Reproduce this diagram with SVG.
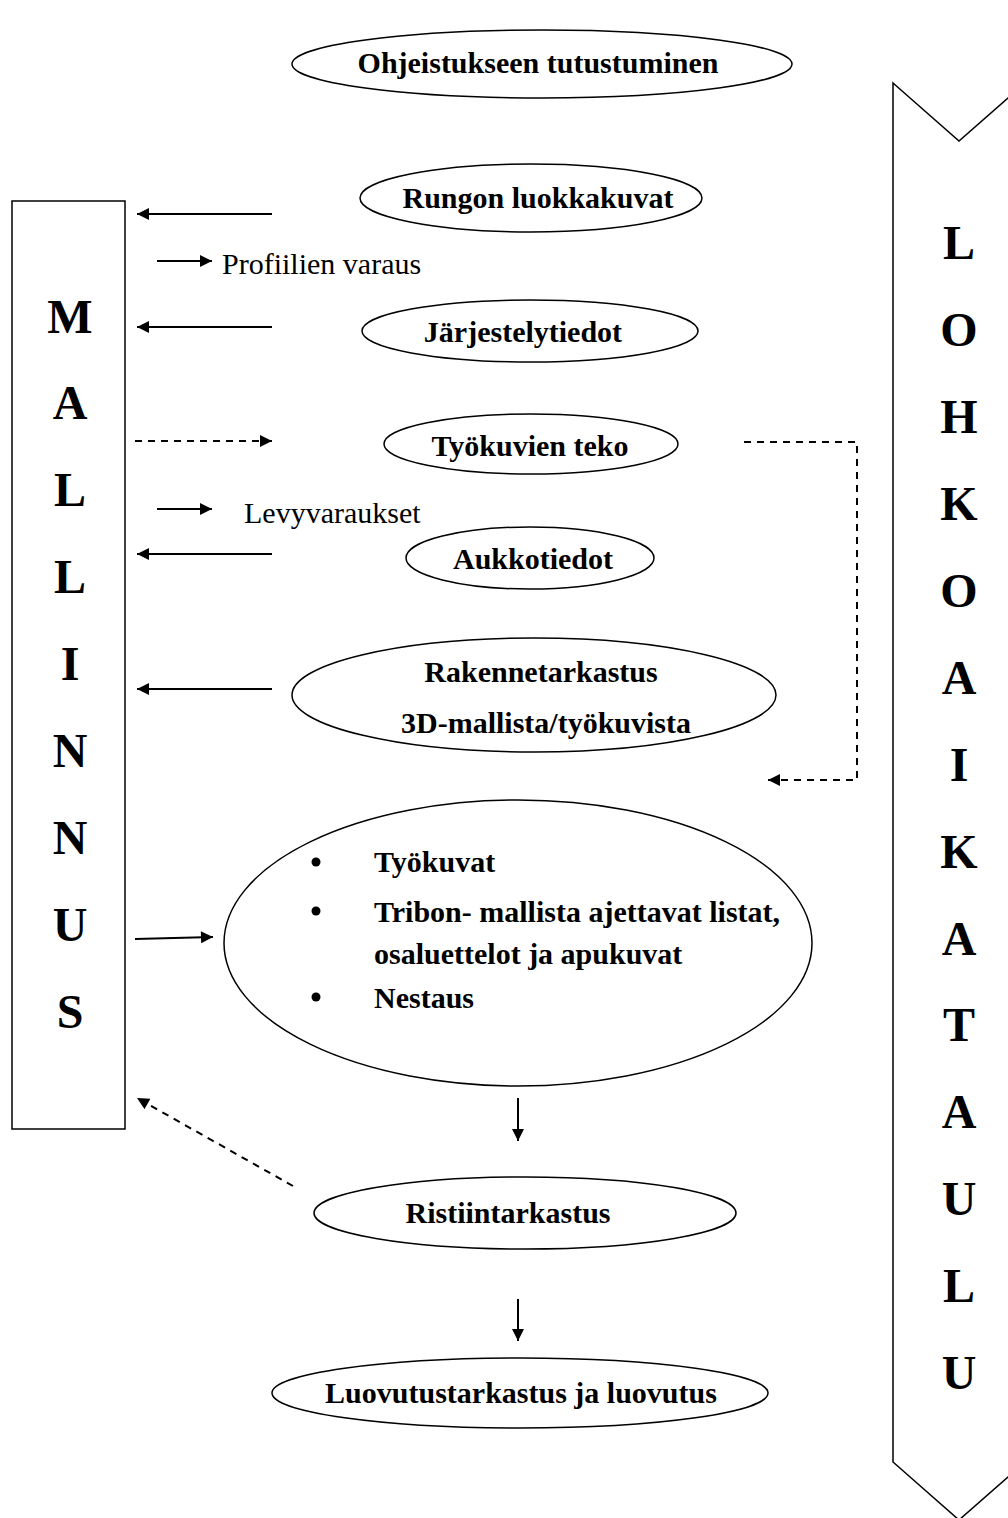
<svg xmlns="http://www.w3.org/2000/svg" width="1008" height="1518" viewBox="0 0 1008 1518">
<defs>
<marker id="ah2" viewBox="0 0 10 10" refX="10" refY="5" markerWidth="14" markerHeight="12" markerUnits="userSpaceOnUse" orient="auto"><path d="M0,0 L10,5 L0,10 z" fill="#000"/></marker>
<style>
.n{fill:#fff;stroke:#000;stroke-width:1.5}
.t{font-family:"Liberation Serif","Times New Roman",serif;font-weight:bold;font-size:30px;text-anchor:middle;fill:#000}
.r{font-family:"Liberation Serif","Times New Roman",serif;font-size:30px;fill:#000}
.b{font-family:"Liberation Serif","Times New Roman",serif;font-weight:bold;font-size:30px;fill:#000}
.big{font-family:"Liberation Serif","Times New Roman",serif;font-weight:bold;font-size:48px;text-anchor:middle;fill:#000}
.c{stroke:#000;stroke-width:2;fill:none}
.d{stroke:#000;stroke-width:2;fill:none;stroke-dasharray:7,6}
</style>
</defs>
<rect width="1008" height="1518" fill="#fff"/>

<g id="mallinnus">
<rect x="12" y="201" width="113" height="928" class="n"/>
<text class="big" x="70" y="333">M</text>
<text class="big" x="70" y="419">A</text>
<text class="big" x="70" y="506">L</text>
<text class="big" x="70" y="593">L</text>
<text class="big" x="70" y="680">I</text>
<text class="big" x="70" y="767">N</text>
<text class="big" x="70" y="854">N</text>
<text class="big" x="70" y="941">U</text>
<text class="big" x="70" y="1028">S</text>
</g>

<g id="lohkoaikataulu">
<path d="M893,83 L959,141 L1025,83 L1025,1462 L959,1520 L893,1462 Z" class="n"/>
<text class="big" x="959" y="259">L</text>
<text class="big" x="959" y="346">O</text>
<text class="big" x="959" y="433">H</text>
<text class="big" x="959" y="520">K</text>
<text class="big" x="959" y="607">O</text>
<text class="big" x="959" y="694">A</text>
<text class="big" x="959" y="781">I</text>
<text class="big" x="959" y="868">K</text>
<text class="big" x="959" y="955">A</text>
<text class="big" x="959" y="1041">T</text>
<text class="big" x="959" y="1128">A</text>
<text class="big" x="959" y="1215">U</text>
<text class="big" x="959" y="1302">L</text>
<text class="big" x="959" y="1389">U</text>
</g>

<g id="ohjeistus">
<ellipse cx="542" cy="64" rx="250" ry="34" class="n"/>
<text class="t" x="538" y="73">Ohjeistukseen tutustuminen</text>
</g>
<g id="rungon">
<ellipse cx="531" cy="198" rx="171" ry="34" class="n"/>
<text class="t" x="538" y="208">Rungon luokkakuvat</text>
</g>
<g id="jarjestely">
<ellipse cx="530" cy="331" rx="168" ry="31" class="n"/>
<text class="t" x="523" y="342">Järjestelytiedot</text>
</g>
<g id="tyokuvien">
<ellipse cx="531" cy="444" rx="147" ry="30" class="n"/>
<text class="t" x="530" y="456">Työkuvien teko</text>
</g>
<g id="aukko">
<ellipse cx="530" cy="558" rx="124" ry="31" class="n"/>
<text class="t" x="533" y="569">Aukkotiedot</text>
</g>
<g id="rakenne">
<ellipse cx="534" cy="695" rx="242" ry="57" class="n"/>
<text class="t" x="541" y="682">Rakennetarkastus</text>
<text class="t" x="546" y="733">3D-mallista/työkuvista</text>
</g>
<g id="tyokuvat">
<ellipse cx="518" cy="943" rx="294" ry="143" class="n"/>
<circle cx="316" cy="862" r="4.5"/>
<circle cx="316" cy="911" r="4.5"/>
<circle cx="316" cy="997" r="4.5"/>
<text class="b" x="374" y="872">Työkuvat</text>
<text class="b" x="374" y="922">Tribon- mallista ajettavat listat,</text>
<text class="b" x="374" y="964">osaluettelot ja apukuvat</text>
<text class="b" x="374" y="1008">Nestaus</text>
</g>
<g id="ristiin">
<ellipse cx="525" cy="1213" rx="211" ry="36" class="n"/>
<text class="t" x="508" y="1223">Ristiintarkastus</text>
</g>
<g id="luovutus">
<ellipse cx="520" cy="1393" rx="248" ry="35" class="n"/>
<text class="t" x="521" y="1403">Luovutustarkastus ja luovutus</text>
</g>

<g id="labels">
<text class="r" x="222" y="274">Profiilien varaus</text>
<text class="r" x="244" y="523">Levyvaraukset</text>
</g>

<g id="connectors">
<line x1="272" y1="214" x2="137" y2="214" class="c" marker-end="url(#ah2)"/>
<line x1="157" y1="261" x2="212" y2="261" class="c" marker-end="url(#ah2)"/>
<line x1="272" y1="327" x2="137" y2="327" class="c" marker-end="url(#ah2)"/>
<line x1="135" y1="441" x2="272" y2="441" class="d" marker-end="url(#ah2)"/>
<line x1="157" y1="509" x2="212" y2="509" class="c" marker-end="url(#ah2)"/>
<line x1="272" y1="554" x2="137" y2="554" class="c" marker-end="url(#ah2)"/>
<line x1="272" y1="689" x2="137" y2="689" class="c" marker-end="url(#ah2)"/>
<line x1="135" y1="939" x2="213" y2="937" class="c" marker-end="url(#ah2)"/>
<line x1="518" y1="1098" x2="518" y2="1141" class="c" marker-end="url(#ah2)"/>
<line x1="518" y1="1299" x2="518" y2="1341" class="c" marker-end="url(#ah2)"/>
<line x1="293" y1="1186" x2="137" y2="1098" class="d" marker-end="url(#ah2)"/>
<polyline points="744,442 857,442 857,780 768,780" class="d" marker-end="url(#ah2)"/>
</g>
</svg>
